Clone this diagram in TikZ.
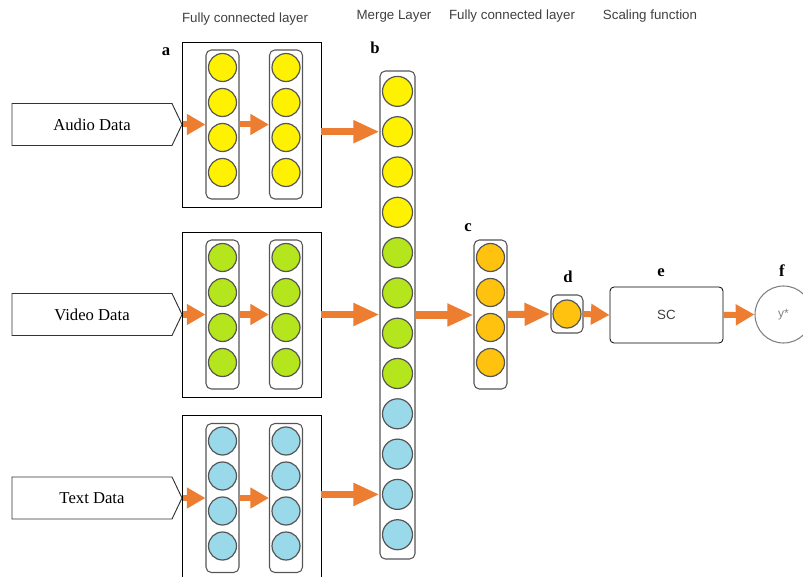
\documentclass[tikz,border=0pt]{standalone}
\usepackage{fontspec}
\setmainfont{Liberation Serif}
\setsansfont{Liberation Sans}
\usetikzlibrary{arrows.meta,shapes.symbols}
\definecolor{arrorange}{RGB}{237,125,49}
\definecolor{ylw}{RGB}{255,242,0}
\definecolor{grn}{RGB}{181,230,29}
\definecolor{blu}{RGB}{153,217,234}
\definecolor{amb}{RGB}{255,194,14}
\definecolor{edge}{RGB}{85,85,85}
\tikzset{
  unit/.style={circle, draw=edge, line width=0.9pt, minimum size=21pt, inner sep=0pt},
  col/.style={draw=edge, line width=0.8pt, rounded corners=4pt, minimum width=24.75pt, minimum height=111.75pt, inner sep=0pt},
  panel/.style={draw=black, line width=0.6pt, inner sep=0pt},
  title/.style={font=\sffamily\fontsize{10}{12}\selectfont, text=black!75},
  tag/.style={font=\bfseries\fontsize{12.5}{14}\selectfont},
  data/.style={draw=black!80, line width=0.7pt, signal, signal to=east, signal pointer angle=129, minimum width=127.5pt, minimum height=31.5pt, inner sep=0pt, font=\fontsize{12.5}{15}\selectfont},
  flow/.style={arrorange, line width=5.25pt, -{Triangle[length=19.5pt,width=16pt]}},
  flowsmall/.style={arrorange, line width=4.5pt, -{Triangle[length=14pt,width=15pt]}}
}
\begin{document}
\begin{tikzpicture}[x=0.75pt,y=-0.75pt]
\useasboundingbox (0,0) rectangle (803,577);
\node[title] (t1) at (245,19) {Fully connected layer};
\node[title] (t2) at (394,16) {Merge Layer};
\node[title] (t3) at (512,16) {Fully connected layer};
\node[title] (t4) at (650,16) {Scaling function};
\foreach \nm/\Y/\clr/\txt in {A/124.5/ylw/Audio Data,V/314.5/grn/Video Data,T/498/blu/Text Data}{
  \node[data] (data\nm) at (92,\Y) {\txt};
  \node[panel, minimum width=104.25pt, minimum height=123.75pt] (box\nm) at (251.5,\Y) {};
  \node[col] (col\nm1) at (222.5,\Y) {};
  \node[col] (col\nm2) at (286,\Y) {};
  \foreach \o [count=\i] in {-57,-22,13,48}{
    \node[unit, fill=\clr] (u\nm1\i) at (222.5,\Y+\o) {};
    \node[unit, fill=\clr] (u\nm2\i) at (286,\Y+\o) {};
  }
  \draw[flowsmall] (data\nm.east) -- (col\nm1.west);
  \draw[flowsmall] (col\nm1.east) -- (col\nm2.west);
}
\node[col, minimum width=26.25pt, minimum height=366pt] (merge) at (397.5,315) {};
\foreach \clr [count=\i] in {ylw,ylw,ylw,ylw,grn,grn,grn,grn,blu,blu,blu,blu}
  \node[unit, minimum size=22.5pt, fill=\clr] (m\i) at (397.5,{91.4+40.3*(\i-1)}) {};
\draw[flow] (m2 -| boxA.east) -- (m2 -| merge.west);
\draw[flow] (boxV.east) -- (boxV.east -| merge.west);
\draw[flow] (m11 -| boxT.east) -- (m11 -| merge.west);
\node[col] (colC) at (490.5,314.5) {};
\foreach \o [count=\i] in {-57,-22,13,48}
  \node[unit, fill=amb] (c\i) at (490.5,314.5+\o) {};
\node[col, minimum width=24pt, minimum height=28.5pt] (colD) at (567,314) {};
\node[unit, fill=amb] (d1) at (567,314) {};
\node[panel, rounded corners=3pt, minimum width=84.75pt, minimum height=42pt, font=\sffamily\fontsize{10}{12}\selectfont, text=black!75] (sc) at (666.5,315) {SC};
\node[circle, draw=gray, line width=0.8pt, minimum size=42.75pt, inner sep=0pt, font=\sffamily\fontsize{9}{11}\selectfont, text=gray] (out) at (783.5,314.5) {y*};
\draw[flow] (merge.east) -- (merge.east -| colC.west);
\draw[flow] (colC.east) -- (colD.west);
\draw[flowsmall] (colD.east) -- (sc.west);
\draw[flowsmall] (sc.east) -- (out.west);
\node[tag] (la) at (166,52) {a};
\node[tag] (lb) at (375,48) {b};
\node[tag] (lc) at (468,228) {c};
\node[tag] (ld) at (568,277) {d};
\node[tag] (le) at (661,273) {e};
\node[tag] (lf) at (782,271) {f};
\end{tikzpicture}
\end{document}
